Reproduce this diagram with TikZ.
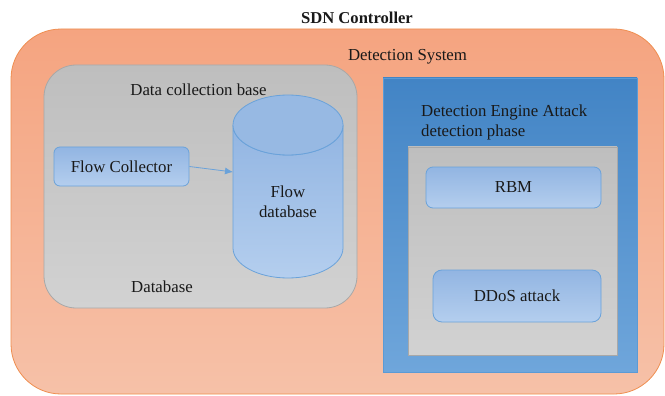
\documentclass[tikz,border=0pt]{standalone}
\usepackage{fontspec}
\setmainfont{Liberation Serif}
\newfontfamily\labelface{Liberation Serif}
\usetikzlibrary{arrows.meta}

\definecolor{orgtop}{HTML}{F5A480}
\definecolor{orgbot}{HTML}{F6C1A8}
\definecolor{orgedge}{HTML}{EF8E50}
\definecolor{grytop}{HTML}{BEBEBE}
\definecolor{grybot}{HTML}{D2D2D2}
\definecolor{gryedge}{HTML}{A8A8A8}
\definecolor{bluetop}{HTML}{4284C5}
\definecolor{bluemid}{HTML}{4B92D7}
\definecolor{bluebot}{HTML}{6FA6DB}
\definecolor{blueedge}{HTML}{5B9BD5}
\definecolor{boxtop}{HTML}{92B5E2}
\definecolor{boxbot}{HTML}{B4CEEE}
\definecolor{boxedge}{HTML}{6AA2DA}

\begin{document}
\begin{tikzpicture}[x=1pt,y=-1pt,
  txt/.style={font=\labelface\fontsize{16.8}{19.5}\selectfont, inner sep=0pt, text=black!90},
  region/.style={inner sep=0pt, line width=0.8pt},
  orangebox/.style={region, draw=orgedge, top color=orgtop, bottom color=orgbot, rounded corners=50pt},
  graybox/.style={region, draw=gryedge, top color=grytop, bottom color=grybot},
  engine/.style={region, draw=blueedge, top color=bluetop, middle color=bluemid, bottom color=bluebot},
  bluebox/.style={txt, draw=boxedge, line width=0.8pt, top color=boxtop, bottom color=boxbot},
  flowarrow/.style={draw=boxedge, line width=0.8pt, -{Latex[length=8pt,width=7pt]}}
]
\useasboundingbox (0,0) rectangle (665,396);

% title
\node[txt, font=\labelface\fontsize{16.6}{19.5}\selectfont\bfseries] (title) at (357,18) {SDN Controller};

% detection system (outer region)
\node[orangebox, minimum width=653pt, minimum height=365pt] (detsys) at (337.5,211.5) {};
\node[txt] (detsyslbl) at (407.5,57) {Detection System};

% data collection base
\node[graybox, rounded corners=32pt, minimum width=313pt, minimum height=243pt] (dcb) at (200.5,186.5) {};
\node[txt] (dcblbl) at (198.5,90) {Data collection base};
\node[txt] (dblbl) at (162,287) {Database};

% flow collector
\node[bluebox, rounded corners=6pt, minimum width=135pt, minimum height=39pt] (collector) at (121.5,166.5) {Flow Collector};

% flow database cylinder
\path[draw=boxedge, line width=0.8pt, top color=boxtop, bottom color=boxbot]
  (233,125) -- (233,248)
  arc[start angle=180, end angle=0, x radius=55, y radius=30]
  -- (343,125)
  arc[start angle=0, end angle=180, x radius=55, y radius=30] -- cycle;
\path[draw=boxedge, line width=0.8pt, fill=boxtop!95!white]
  (288,125) ellipse[x radius=55, y radius=30];
\coordinate (dbin) at (233,172);
\node[txt, align=center] (flowdb) at (288,202) {Flow\\database};

\draw[flowarrow] (collector.east) -- (dbin);

% detection engine
\node[engine, minimum width=254pt, minimum height=294pt] (engine) at (510,225) {};
\node[txt, anchor=west, align=left] (enginelbl) at (421,122.5) {Detection Engine Attack\\detection phase};

\node[graybox, minimum width=209pt, minimum height=208pt] (phase) at (512.5,251) {};
\node[bluebox, rounded corners=7pt, minimum width=175pt, minimum height=41pt] (rbm) at (513.5,187.5) {RBM};
\node[bluebox, rounded corners=9pt, minimum width=168pt, minimum height=52pt] (ddos) at (517,296) {DDoS attack};
\end{tikzpicture}
\end{document}
